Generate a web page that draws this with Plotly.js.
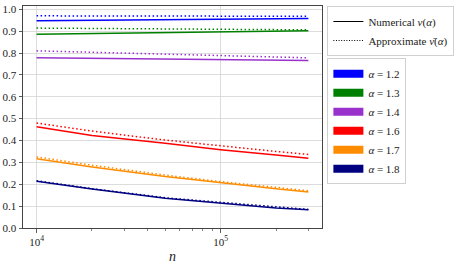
<!DOCTYPE html>
<html>
<head>
<meta charset="utf-8">
<script src="https://cdn.plot.ly/plotly-3.0.1.min.js"></script>
<style>html,body{margin:0;padding:0;background:#fff;}#chart{width:464px;height:264px;}</style>
</head>
<body>
<div id="chart"></div>
<script>
const n = [1e4, 2e4, 5e4, 1e5, 2e5, 3e5];
const alphas = ["1.2", "1.3", "1.4", "1.6", "1.7", "1.8"];
const colors = ["#0000ff", "#008000", "#9932cc", "#ff0000", "#ff8c00", "#000080"];
const numerical = [
  [0.947, 0.949, 0.952, 0.954, 0.956, 0.958],
  [0.886, 0.889, 0.893, 0.896, 0.899, 0.902],
  [0.778, 0.776, 0.773, 0.771, 0.768, 0.766],
  [0.463, 0.423, 0.387, 0.358, 0.334, 0.319],
  [0.317, 0.279, 0.235, 0.206, 0.180, 0.165],
  [0.214, 0.178, 0.136, 0.115, 0.091, 0.083]
];
const approximate = [
  [0.970, 0.970, 0.969, 0.969, 0.968, 0.968],
  [0.914, 0.912, 0.910, 0.908, 0.907, 0.906],
  [0.810, 0.803, 0.794, 0.788, 0.781, 0.778],
  [0.480, 0.443, 0.402, 0.375, 0.350, 0.336],
  [0.325, 0.287, 0.242, 0.212, 0.186, 0.170],
  [0.216, 0.180, 0.138, 0.117, 0.094, 0.085]
];
const xTickVals = [1e4, 1e5];
const xTickText = ["10<sup>4</sup>", "10<sup>5</sup>"];
const xMinorVals = [2e4, 3e4, 4e4, 5e4, 6e4, 7e4, 8e4, 9e4, 2e5, 3e5];
const yTickVals = [0, 0.1, 0.2, 0.3, 0.4, 0.5, 0.6, 0.7, 0.8, 0.9, 1.0];
const yTickText = ["0.0", "0.1", "0.2", "0.3", "0.4", "0.5", "0.6", "0.7", "0.8", "0.9", "1.0"];

const FONT = "Liberation Serif, DejaVu Serif, serif";
const DOT = "1.5px,2.5px";
const traces = [];
for (let i = 0; i < alphas.length; i++) {
  traces.push({x: n, y: numerical[i], type: "scatter", mode: "lines",
    line: {color: colors[i], width: 1.5}, showlegend: false, hoverinfo: "skip"});
  traces.push({x: n, y: approximate[i], type: "scatter", mode: "lines",
    line: {color: colors[i], width: 1.5, dash: DOT}, showlegend: false, hoverinfo: "skip"});
}
// legend entries
traces.push({x: [null], y: [null], type: "scatter", mode: "lines", name: "Numerical <i>ν</i>(<i>α</i>)",
  line: {color: "#000", width: 1.2}, legend: "legend"});
traces.push({x: [null], y: [null], type: "scatter", mode: "lines", name: "Approximate <i>ν̄</i>(<i>α</i>)",
  line: {color: "#000", width: 1, dash: "1px,1.6px"}, legend: "legend"});
for (let i = 0; i < alphas.length; i++) {
  traces.push({x: [null], y: [null], type: "scatter", mode: "lines", name: "<i>α</i> = " + alphas[i],
    line: {color: colors[i], width: 8}, legend: "legend2"});
}

const legendBase = {xanchor: "left", yanchor: "top", bgcolor: "rgba(255,255,255,0.8)",
  bordercolor: "#d0d0d0", borderwidth: 1, font: {family: FONT, size: 11, color: "#222"},
  itemwidth: 30, tracegroupgap: 0, traceorder: "normal"};

const layout = {
  width: 464, height: 264,
  margin: {l: 23, r: 142, t: 6, b: 36, pad: 0},
  paper_bgcolor: "#fff", plot_bgcolor: "#fff",
  font: {family: FONT, size: 11, color: "#222"},
  xaxis: {type: "log", range: [Math.log10(1e4) - 0.0739, Math.log10(3e5) + 0.0739],
    tickmode: "array", tickvals: xTickVals, ticktext: xTickText,
    ticks: "outside", ticklen: 3.5, tickcolor: "#333", tickwidth: 0.8,
    showgrid: true, gridcolor: "#d3d3d3", gridwidth: 0.8,
    minor: {tickmode: "array", tickvals: xMinorVals, ticks: "outside", ticklen: 2, tickcolor: "#333", tickwidth: 0.6, showgrid: false},
    showline: true, linecolor: "#444", linewidth: 1, mirror: true, zeroline: false,
    tickfont: {family: FONT, size: 11, color: "#222"},
    title: {text: "<i>n</i>", font: {family: FONT, size: 14, color: "#222"}, standoff: 4}},
  yaxis: {range: [0, 1.015], tickmode: "array", tickvals: yTickVals, ticktext: yTickText,
    ticks: "outside", ticklen: 3.5, tickcolor: "#333", tickwidth: 0.8,
    showgrid: true, gridcolor: "#d3d3d3", gridwidth: 0.8,
    showline: true, linecolor: "#444", linewidth: 1, mirror: true, zeroline: false,
    tickfont: {family: FONT, size: 11, color: "#222"}},
  legend: Object.assign({}, legendBase, {x: 1.018, y: 1.0}),
  legend2: Object.assign({}, legendBase, {x: 1.018, y: 0.765}),
  showlegend: true
};
Plotly.newPlot("chart", traces, layout, {staticPlot: true, displayModeBar: false});
</script>
</body>
</html>
